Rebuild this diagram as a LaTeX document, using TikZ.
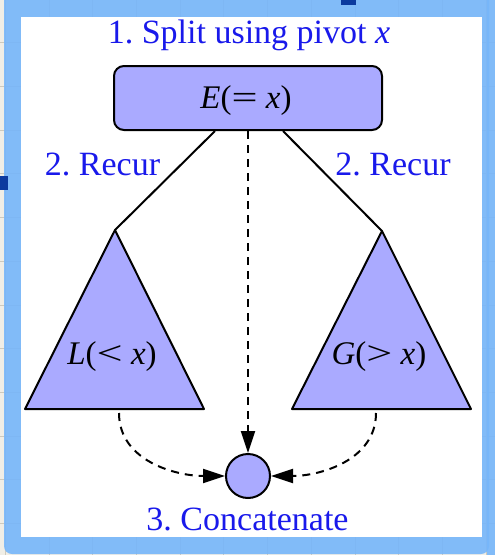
\documentclass[tikz,border=0pt]{standalone}
\usepackage{fontspec}
\usepackage{graphicx}
\setmainfont{Liberation Serif}
\usetikzlibrary{arrows.meta}
\definecolor{txtblue}{RGB}{25,25,235}
\definecolor{nodefill}{RGB}{170,170,255}
\definecolor{frameblue}{RGB}{118,182,250}
\definecolor{bgbeige}{RGB}{240,238,230}
\definecolor{gridline}{RGB}{205,202,190}
\definecolor{navy}{RGB}{12,58,158}
\newcommand{\wrel}[1]{\scalebox{1.4}[1]{#1}}
\frenchspacing
\begin{document}
\begin{tikzpicture}[x=1pt,y=-1pt,
  lbl/.style={font=\fontsize{34}{40}\selectfont, text=txtblue, inner sep=0pt},
  mathlbl/.style={font=\fontsize{33}{38}\selectfont, inner sep=0pt},
  shapeline/.style={line width=2pt, draw=black, fill=nodefill, line join=round},
  conn/.style={line width=2pt, draw=black},
  dconn/.style={line width=2pt, draw=black, dash pattern=on 8pt off 6pt, -{Triangle[length=22pt,width=14pt]}},
]
\useasboundingbox (0,0) rectangle (495,555);
% backdrop
\fill[bgbeige] (0,0) rectangle (495,555);
\foreach \gx in {5.3,49,92.7,136.4,180.1,223.8,267.5,311.2,354.9,398.6,442.3,486}
  \draw[gridline, line width=0.8pt] (\gx,0) -- (\gx,555);
\foreach \gy in {42.7,86.4,130.1,173.8,217.5,261.2,304.9,348.6,392.3,436,479.7,523.4}
  \draw[gridline, line width=0.8pt] (0,\gy) -- (495,\gy);
\fill[frameblue, opacity=0.9] (487,-2) rectangle (497,557);
\fill[frameblue, opacity=0.9, rounded corners=8pt] (4,-8) rectangle (489,554);
\fill[white] (21,17) rectangle (482,537);
\fill[navy] (0,176) rectangle (8,190);
\fill[navy] (341,0) rectangle (356,5);
% top box
\node[shapeline, rounded corners=10pt, minimum width=268pt, minimum height=64pt, inner sep=0pt] (E) at (248,98) {};
\node[mathlbl, anchor=base] (Et) at (246,108) {\textit{E\/}(\wrel{=}\hspace{0.25em}\textit{x})};
% triangles
\coordinate (Ltop) at (115,230);
\coordinate (Lbl) at (25,409);
\coordinate (Lbr) at (204,409);
\coordinate (Rtop) at (382,231);
\coordinate (Rbl) at (292,409);
\coordinate (Rbr) at (471,409);
\filldraw[shapeline] (Ltop) -- (Lbl) -- (Lbr) -- cycle;
\filldraw[shapeline] (Rtop) -- (Rbl) -- (Rbr) -- cycle;
\node[mathlbl, anchor=base] (Lt) at (112,364) {\textit{L}(\wrel{<}\hspace{0.25em}\textit{x})};
\node[mathlbl, anchor=base] (Gt) at (379,364) {\textit{G}(\wrel{>}\hspace{0.25em}\textit{x})};
% circle
\node[shapeline, circle, minimum size=44pt, inner sep=0pt] (C) at (248,476) {};
% connectors
\coordinate (Ea) at (215,131);
\coordinate (Eb) at (283,131);
\coordinate (Ls) at (119,413);
\coordinate (Rs) at (376,413);
\draw[conn] (Ea) -- (Ltop);
\draw[conn] (Eb) -- (Rtop);
\draw[dconn] (E.south) -- (C.north);
\draw[dconn] (Ls) to[out=-90, in=180] (C.west);
\draw[dconn] (Rs) to[out=-90, in=0] (C.east);
% labels
\node[lbl, anchor=base] (t1) at (249,43) {1. Split using pivot \textit{x}};
\node[lbl, anchor=base] (t2l) at (102.5,175) {2. Recur};
\node[lbl, anchor=base] (t2r) at (393,175) {2. Recur};
\node[lbl, anchor=base] (t3) at (247.5,530) {3. Concatenate};
\end{tikzpicture}
\end{document}
